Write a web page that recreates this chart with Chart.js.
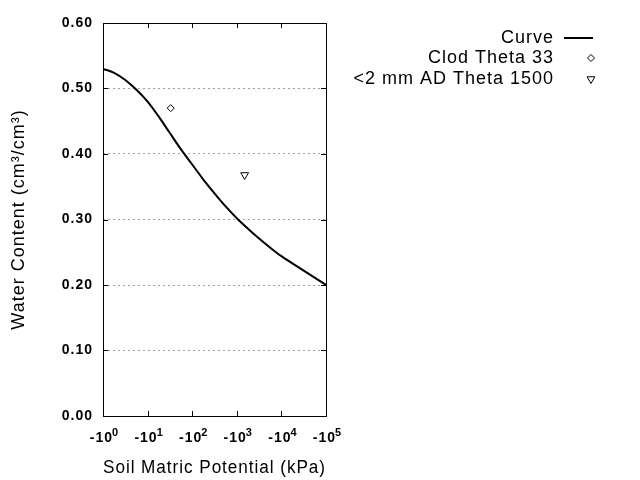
<!DOCTYPE html>
<html lang="en">
<head>
<meta charset="UTF-8">
<title>Water retention curve</title>
<script src="https://cdn.jsdelivr.net/npm/chart.js@4/dist/chart.umd.min.js"></script>
<style>
  html, body { margin: 0; padding: 0; background: #fff; }
  #wrap { width: 640px; height: 480px; }
</style>
</head>
<body>
<div id="wrap"><canvas id="chart" width="640" height="480"></canvas></div>
<script>
// fitted curve (|kPa| vs theta)
const curveKpa = [1, 1.78, 3.16, 5.62, 10, 17.8, 31.6, 56.2, 100, 178, 316, 562, 1000, 1780, 3160, 5620, 10000, 31600, 100000];
const curveTheta = [0.530, 0.524, 0.513, 0.498, 0.480, 0.457, 0.432, 0.407, 0.384, 0.361, 0.340, 0.320, 0.302, 0.286, 0.271, 0.257, 0.244, 0.222, 0.200];

// measured points
const clodKpa = [33];
const clodTheta = [0.470];
const adKpa = [1500];
const adTheta = [0.368];

// axis ticks
const xTickValues = [1, 10, 100, 1000, 10000, 100000];
const xTickExps = ['0', '1', '2', '3', '4', '5'];
const yTickValues = [0, 0.1, 0.2, 0.3, 0.4, 0.5, 0.6];

const legendLabels = ['Curve', 'Clod Theta 33', '<2 mm AD Theta 1500'];

const FONT = '"Liberation Sans", Arial, sans-serif';
const SPACING = '1px'; // the original renderer spaces its glyphs out a little

const toPoints = (xs, ys) => xs.map((x, i) => ({ x, y: ys[i] }));

// canvas resizes wipe the context state, so set the spacing again before layout and draw
const spacingPlugin = {
  id: 'spacing',
  beforeLayout(chart) { chart.ctx.letterSpacing = SPACING; },
  beforeDraw(chart) { chart.ctx.letterSpacing = SPACING; },
};

// frame + inward mirror ticks, gnuplot style, and the -10^n labels
const framePlugin = {
  id: 'frame',
  afterDatasetsDraw(chart) {
    const { ctx, chartArea: a, scales } = chart;
    const len = 5;
    ctx.save();
    ctx.strokeStyle = '#000';
    ctx.lineWidth = 1;
    ctx.beginPath();
    xTickValues.forEach((v) => {
      const px = Math.round(scales.x.getPixelForValue(v)) + 0.5;
      ctx.moveTo(px, a.bottom); ctx.lineTo(px, a.bottom - len);
      ctx.moveTo(px, a.top); ctx.lineTo(px, a.top + len);
    });
    yTickValues.forEach((v) => {
      const py = Math.round(scales.y.getPixelForValue(v)) + 0.5;
      ctx.moveTo(a.left, py); ctx.lineTo(a.left + len, py);
      ctx.moveTo(a.right, py); ctx.lineTo(a.right - len, py);
    });
    ctx.stroke();
    ctx.strokeRect(Math.round(a.left) + 0.5, Math.round(a.top) + 0.5,
      Math.round(a.right - a.left), Math.round(a.bottom - a.top));

    // x tick labels with real superscripts
    const baseFont = 'bold 14px ' + FONT;
    const supFont = 'bold 11px ' + FONT;
    const baseY = a.bottom + 26;
    ctx.fillStyle = '#000';
    ctx.textBaseline = 'alphabetic';
    ctx.textAlign = 'left';
    xTickValues.forEach((v, i) => {
      const px = scales.x.getPixelForValue(v);
      ctx.font = baseFont;
      const wb = ctx.measureText('-10').width;
      ctx.font = supFont;
      const ws = ctx.measureText(xTickExps[i]).width;
      const x0 = px - (wb + ws) / 2 + 2;
      ctx.font = baseFont;
      ctx.fillText('-10', x0, baseY);
      ctx.font = supFont;
      ctx.fillText(xTickExps[i], x0 + wb - 1, baseY - 6);
    });
    ctx.restore();
  },
};

// legend on the right with the key after the text
const keyPlugin = {
  id: 'key',
  afterDraw(chart) {
    const { ctx } = chart;
    const textRight = 554;
    const keyX = 591;
    const rows = [38, 58, 79];
    ctx.save();
    ctx.font = '18px ' + FONT;
    ctx.fillStyle = '#000';
    ctx.textAlign = 'right';
    ctx.textBaseline = 'middle';
    legendLabels.forEach((t, i) => ctx.fillText(t, textRight, rows[i]));

    // curve sample
    ctx.strokeStyle = '#000';
    ctx.lineWidth = 2;
    ctx.beginPath();
    ctx.moveTo(564, rows[0]);
    ctx.lineTo(593, rows[0]);
    ctx.stroke();

    // markers use the dataset styles
    const ds = chart.data.datasets;
    [1, 2].forEach((di) => {
      const d = ds[di];
      ctx.lineWidth = d.pointBorderWidth;
      ctx.strokeStyle = d.borderColor;
      ctx.fillStyle = d.pointBackgroundColor;
      Chart.helpers.drawPoint(ctx, {
        pointStyle: d.pointStyle,
        rotation: d.pointRotation || 0,
        radius: d.pointRadius,
        borderWidth: d.pointBorderWidth,
      }, keyX, rows[di]);
    });
    ctx.restore();
  },
};

new Chart(document.getElementById('chart'), {
  type: 'scatter',
  data: {
    datasets: [
      {
        label: legendLabels[0],
        data: toPoints(curveKpa, curveTheta),
        showLine: true,
        borderColor: '#000',
        borderWidth: 2,
        pointRadius: 0,
        cubicInterpolationMode: 'monotone',
        order: 2,
      },
      {
        label: legendLabels[1],
        data: toPoints(clodKpa, clodTheta),
        pointStyle: 'rectRot',
        pointRadius: 3.5,
        pointBorderWidth: 1,
        borderColor: '#000',
        pointBackgroundColor: '#fff',
        backgroundColor: '#fff',
        order: 1,
      },
      {
        label: legendLabels[2],
        data: toPoints(adKpa, adTheta),
        pointStyle: 'triangle',
        pointRotation: 180,
        pointRadius: 4.5,
        pointBorderWidth: 1,
        borderColor: '#000',
        pointBackgroundColor: '#fff',
        backgroundColor: '#fff',
        order: 1,
      },
    ],
  },
  options: {
    responsive: false,
    animation: false,
    layout: { padding: { left: 0, top: 23, right: 314, bottom: 0 } },
    plugins: {
      legend: { display: false },
      tooltip: { enabled: false },
    },
    scales: {
      x: {
        type: 'logarithmic',
        min: 1,
        max: 100000,
        afterBuildTicks(scale) {
          scale.ticks = xTickValues.map((v) => ({ value: v }));
        },
        afterFit(scale) { scale.height = 64; },
        grid: { display: false, drawTicks: false },
        border: { display: false },
        ticks: { display: false },
        title: {
          display: true,
          text: 'Soil Matric Potential (kPa)',
          color: '#000',
          font: { family: FONT, size: 18 },
          padding: { top: 0, bottom: 1 },
        },
      },
      y: {
        min: 0,
        max: 0.6,
        afterBuildTicks(scale) {
          scale.ticks = yTickValues.map((v) => ({ value: v }));
        },
        afterFit(scale) { scale.width = 103; },
        grid: {
          drawTicks: false,
          lineWidth: 1,
          color: (c) => (c.tick && (c.tick.value === 0 || Math.abs(c.tick.value - 0.6) < 1e-9)) ? 'rgba(0,0,0,0)' : '#a0a0a0',
        },
        border: { display: false, dash: [2, 3] },
        ticks: {
          padding: 10,
          color: '#000',
          font: { family: FONT, size: 14, weight: 'bold' },
          callback: (v) => v.toFixed(2),
        },
        title: {
          display: true,
          text: 'Water Content (cm\u00b3/cm\u00b3)',
          color: '#000',
          font: { family: FONT, size: 18 },
          padding: { top: 8, bottom: 0 },
        },
      },
    },
  },
  plugins: [spacingPlugin, framePlugin, keyPlugin],
});
</script>
</body>
</html>
